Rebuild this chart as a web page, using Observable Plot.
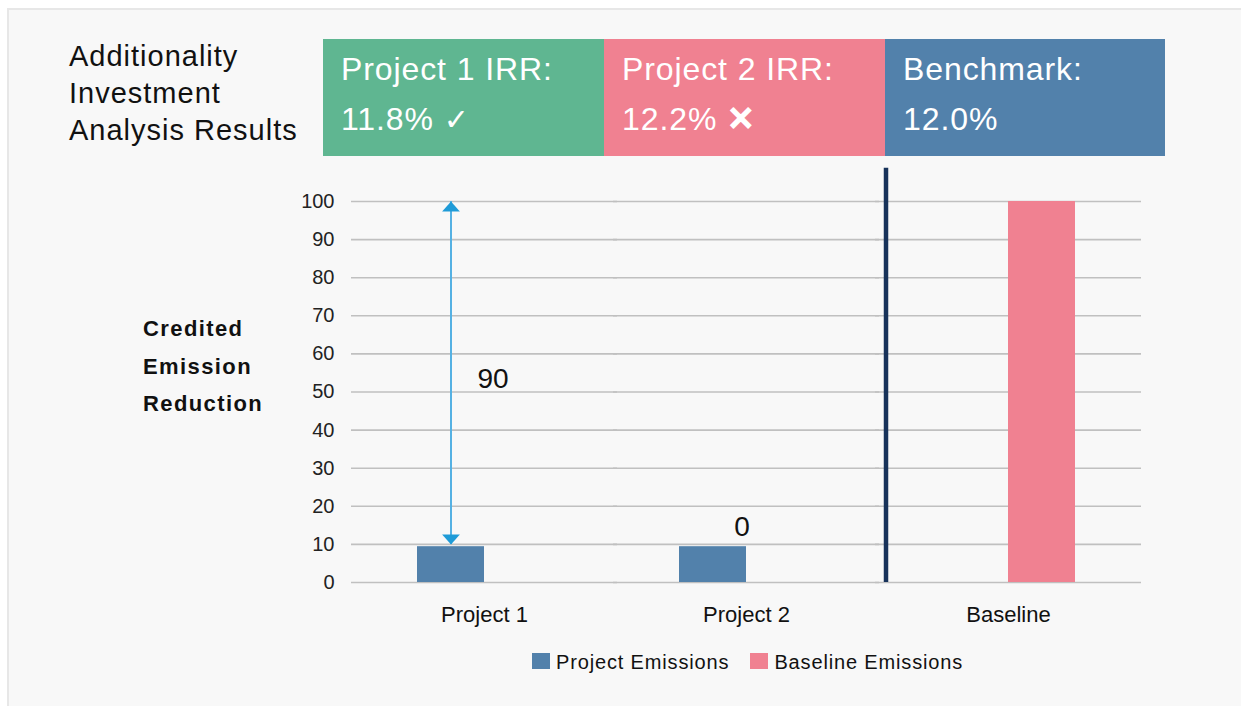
<!DOCTYPE html>
<html>
<head>
<meta charset="utf-8">
<script src="https://cdn.jsdelivr.net/npm/d3@7"></script>
<script src="https://cdn.jsdelivr.net/npm/@observablehq/plot@0.6"></script>
<style>
  html, body { margin: 0; padding: 0; background: #ffffff; width: 1241px; height: 706px; overflow: hidden; }
  body { position: relative; font-family: "Liberation Sans", Arial, Helvetica, sans-serif; color: #111; }
  #card { position: absolute; left: 7px; top: 8px; width: 1260px; height: 720px; background: #f8f8f8; border: 2px solid #e7e7e7; box-sizing: border-box; }
  #title { position: absolute; left: 69px; top: 38px; font-size: 29px; line-height: 37px; letter-spacing: 1.0px; color: #111; white-space: nowrap; }
  #boxes { position: absolute; left: 323px; top: 39px; display: flex; }
  .box { height: 117px; box-sizing: border-box; padding: 5px 0 0 18px; font-size: 32px; line-height: 50px; letter-spacing: 0.9px; color: #fff; white-space: nowrap; }
  .mark { font-family: "DejaVu Sans", sans-serif; letter-spacing: 0; }
  .cross { -webkit-text-stroke: 1.8px #fff; }
  #ytitle { position: absolute; left: 143px; top: 310px; font-size: 22px; font-weight: bold; line-height: 37.5px; letter-spacing: 1.4px; color: #111; white-space: nowrap; }
  #chart { position: absolute; left: 0; top: 160px; }
  #legend { position: absolute; left: 532px; top: 652px; font-size: 20px; line-height: 20px; letter-spacing: 0.85px; white-space: nowrap; display: flex; gap: 21px; color: #111; }
  .sw { display: inline-block; width: 18px; height: 16px; margin-right: 6px; vertical-align: baseline; }
</style>
</head>
<body>
<div id="card"></div>
<div id="title">Additionality<br>Investment<br>Analysis Results</div>
<div id="boxes"></div>
<div id="ytitle">Credited<br>Emission<br>Reduction</div>
<div id="chart"></div>
<div id="legend"></div>
<script>
// ---- data ----
const categories = ["Project 1", "Project 2", "Baseline"];
const series = ["Project Emissions", "Baseline Emissions"];
const projectEmissions = [9.4, 9.4, 0];
const baselineEmissions = [0, 0, 100];
const seriesColors = ["#5281ab", "#f08191"];
const yTicks = [0, 10, 20, 30, 40, 50, 60, 70, 80, 90, 100];

const reductionCats = ["Project 1", "Project 2"];
const reductionLabels = ["90", "0"];
const reductionLabelY = [53.5, 14.5];
const arrowFrom = [10];
const arrowTo = [100];
const dividerTop = [108.7];

const boxLabels = ["Project 1 IRR:", "Project 2 IRR:", "Benchmark:"];
const boxValues = ["11.8%", "12.2%", "12.0%"];
const boxMarks = ["\u2713", "\u2715", ""];
const boxColors = ["#5fb691", "#f08191", "#5281ab"];
const boxWidths = [281, 281, 280];

// ---- header boxes ----
const boxes = document.getElementById("boxes");
boxLabels.forEach((lab, i) => {
  const d = document.createElement("div");
  d.className = "box";
  d.style.background = boxColors[i];
  d.style.width = boxWidths[i] + "px";
  d.innerHTML = lab + "<br>" + boxValues[i] +
    (boxMarks[i] ? ' <span class="mark' + (i === 1 ? ' cross' : '') + '" style="font-size:' + (i === 1 ? "33px" : "30px") + '">' + boxMarks[i] + "</span>" : "");
  boxes.appendChild(d);
});

// ---- legend ----
const legend = document.getElementById("legend");
series.forEach((s, i) => {
  const item = document.createElement("span");
  item.innerHTML = '<span class="sw" style="background:' + seriesColors[i] + '"></span>' + s;
  legend.appendChild(item);
});

// ---- chart ----
const table = categories.flatMap((c, i) => [
  {cat: c, series: series[0], value: projectEmissions[i]},
  {cat: c, series: series[1], value: baselineEmissions[i]}
]);
const arrowData = arrowFrom.map((f, i) => ({cat: categories[0], series: series[0], from: f, to: arrowTo[i]}));
const labelData = reductionCats.map((c, i) => ({cat: c, series: series[0], label: reductionLabels[i], y: reductionLabelY[i]}));
const dividerData = dividerTop.map(t => ({cat: categories[2], series: series[0], top: t}));

const headUp = {draw(ctx, size) { const s = Math.sqrt(size); ctx.moveTo(0, 0); ctx.lineTo(s, s * 1.13); ctx.lineTo(-s, s * 1.13); ctx.closePath(); }};
const headDown = {draw(ctx, size) { const s = Math.sqrt(size); ctx.moveTo(0, 0); ctx.lineTo(s, -s * 1.13); ctx.lineTo(-s, -s * 1.13); ctx.closePath(); }};

const FONT = '"Liberation Sans", Arial, Helvetica, sans-serif';

const plot = Plot.plot({
  width: 1241,
  height: 470,
  marginLeft: 353,
  marginRight: 102,
  marginTop: 41,
  marginBottom: 48,
  style: {background: "transparent", fontFamily: FONT, fontSize: "20px", color: "#222", overflow: "visible"},
  fx: {domain: categories, padding: 0},
  x: {domain: series, paddingInner: 0, paddingOuter: 0.95, axis: null},
  y: {domain: [0, 100]},
  color: {domain: series, range: seriesColors},
  marks: [
    Plot.ruleY(yTicks, {stroke: "#c0c0c0", strokeWidth: 1.6, insetLeft: -2, insetRight: -2}),
    Plot.barY(table, {fx: "cat", x: "series", y: "value", fill: "series"}),
    Plot.ruleX(dividerData, {fx: "cat", x: "series", y1: 0, y2: "top", dx: -89, stroke: "#17325a", strokeWidth: 4.5}),
    Plot.ruleX(arrowData, {fx: "cat", x: "series", y1: "from", y2: "to", stroke: "#55b1e3", strokeWidth: 2}),
    Plot.dot(arrowData, {fx: "cat", x: "series", y: "to", symbol: headUp, r: 5, fill: "#1f9bd7", stroke: "none"}),
    Plot.dot(arrowData, {fx: "cat", x: "series", y: "from", symbol: headDown, r: 5, fill: "#1f9bd7", stroke: "none"}),
    Plot.text(labelData.slice(0, 1), {fx: "cat", x: "series", y: "y", text: "label", dx: 42, fontSize: 28, fill: "#111"}),
    Plot.text(labelData.slice(1, 2), {fx: "cat", x: "series", y: "y", text: "label", dx: 29, fontSize: 28, fill: "#111"}),
    Plot.axisY({ticks: yTicks, tickSize: 0, tickPadding: 19, fontSize: 20, fill: "#222", label: null}),
    Plot.axisFx({anchor: "bottom", tickSize: 0, tickPadding: 24, fontSize: 22, fill: "#111", label: null})
  ]
});
document.getElementById("chart").appendChild(plot);
</script>
</body>
</html>
